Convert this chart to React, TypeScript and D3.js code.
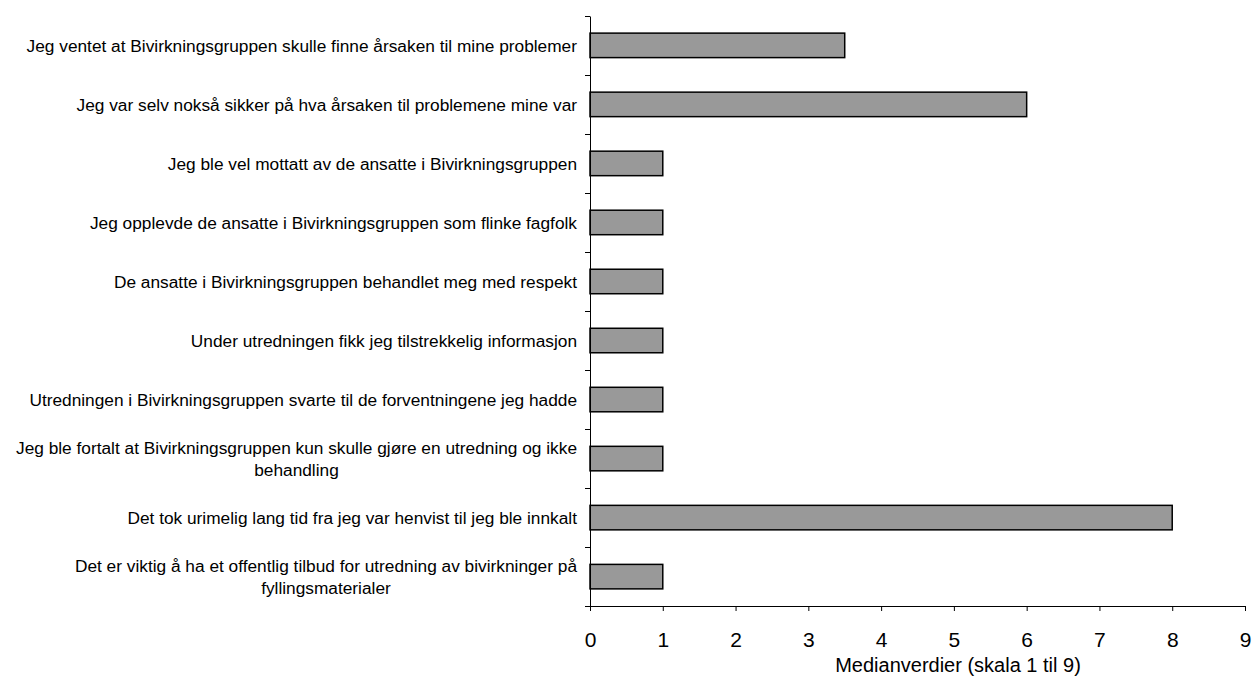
import { axisBottom, axisLeft, scaleBand, scaleLinear, select } from 'd3';
import { useEffect, useRef } from 'react';

const questions = [
  'Jeg ventet at Bivirkningsgruppen skulle finne årsaken til mine problemer',
  'Jeg var selv nokså sikker på hva årsaken til problemene mine var',
  'Jeg ble vel mottatt av de ansatte i Bivirkningsgruppen',
  'Jeg opplevde de ansatte i Bivirkningsgruppen som flinke fagfolk',
  'De ansatte i Bivirkningsgruppen behandlet meg med respekt',
  'Under utredningen fikk jeg tilstrekkelig informasjon',
  'Utredningen i Bivirkningsgruppen svarte til de forventningene jeg hadde',
  'Jeg ble fortalt at Bivirkningsgruppen kun skulle gjøre en utredning og ikke|behandling',
  'Det tok urimelig lang tid fra jeg var henvist til jeg ble innkalt',
  'Det er viktig å ha et offentlig tilbud for utredning av bivirkninger på|fyllingsmaterialer',
];
const medians = [3.5, 6, 1, 1, 1, 1, 1, 1, 8, 1];
const xTicks = [0, 1, 2, 3, 4, 5, 6, 7, 8, 9];
const xTitle = 'Medianverdier (skala 1 til 9)';

const W = 1255;
const H = 683;
const font = '"Liberation Sans", Arial, sans-serif';

export default function App() {
  const svgRef = useRef<SVGSVGElement>(null);

  useEffect(() => {
    if (!svgRef.current) return;
    const svg = select(svgRef.current);
    const left = 590;
    const right = 1245;
    const top = 16;
    const bottom = 606;

    const x = scaleLinear().domain([0, 9]).range([left, right]);
    const y = scaleBand<number>()
      .domain(questions.map((_, i) => i))
      .range([top, bottom])
      .paddingInner(0.585)
      .paddingOuter(0.29);

    const root = svg.append('g');

    // bars
    root
      .selectAll('rect.bar')
      .data(medians)
      .join('rect')
      .attr('class', 'bar')
      .attr('x', x(0))
      .attr('y', (_, i) => y(i) ?? 0)
      .attr('width', (d) => x(d) - x(0))
      .attr('height', y.bandwidth())
      .attr('fill', '#999999')
      .attr('stroke', '#000')
      .attr('stroke-width', 1.5);

    // y axis: ticks on band boundaries
    const yEdge = scaleLinear().domain([0, questions.length]).range([top, bottom]);
    const yAxis = root
      .append('g')
      .attr('transform', `translate(${left},0)`)
      .call(
        axisLeft(yEdge)
          .tickValues(questions.map((_, i) => i).concat(questions.length))
          .tickSize(5)
          .tickSizeOuter(0)
          .tickFormat(() => ''),
      );
    yAxis.select('.domain').attr('stroke', '#000');
    yAxis.selectAll('.tick line').attr('stroke', '#000');

    // x axis
    const xAxis = root
      .append('g')
      .attr('transform', `translate(0,${bottom})`)
      .call(axisBottom(x).tickValues(xTicks).tickSize(5).tickSizeOuter(0).tickPadding(21));
    xAxis.select('.domain').attr('stroke', '#000');
    xAxis.selectAll('.tick line').attr('stroke', '#000');
    xAxis
      .selectAll('.tick text')
      .attr('font-family', font)
      .attr('font-size', 21)
      .attr('fill', '#000');

    // category labels
    const labelRight = 577;
    const fs = 17.3;
    questions.forEach((q, i) => {
      const lines = q.split('|');
      const cy = (y(i) ?? 0) + y.bandwidth() / 2;
      const lh = 22;
      const t = root
        .append('text')
        .attr('font-family', font)
        .attr('font-size', fs)
        .attr('fill', '#000');
      if (lines.length === 1) {
        t.attr('x', labelRight).attr('y', cy + 6.5).attr('text-anchor', 'end').text(lines[0]);
      } else {
        const first = t
          .append('tspan')
          .attr('x', labelRight)
          .attr('y', cy - lh / 2 + 6.5)
          .attr('text-anchor', 'end')
          .text(lines[0]);
        const w = (first.node() as SVGTSpanElement).getComputedTextLength();
        lines.slice(1).forEach((ln, k) => {
          t.append('tspan')
            .attr('x', labelRight - w / 2)
            .attr('y', cy - lh / 2 + 6.5 + lh * (k + 1))
            .attr('text-anchor', 'middle')
            .text(ln);
        });
      }
    });

    root
      .append('text')
      .attr('x', 958)
      .attr('y', 672)
      .attr('text-anchor', 'middle')
      .attr('font-family', font)
      .attr('font-size', 20)
      .attr('fill', '#000')
      .text(xTitle);

    return () => {
      svg.selectAll('*').remove();
    };
  }, []);

  return (
    <svg
      ref={svgRef}
      width={W}
      height={H}
      style={{ position: 'absolute', left: 0, top: 0, background: '#fff' }}
    />
  );
}
